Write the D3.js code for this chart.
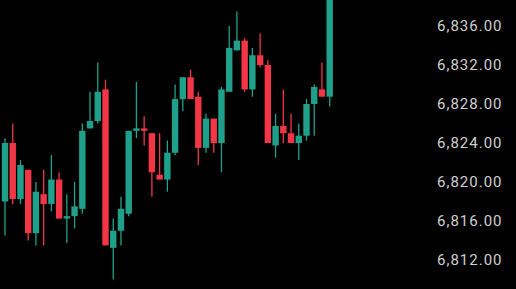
<!DOCTYPE html>
<html>
<head>
<meta charset="utf-8">
<script src="https://cdn.jsdelivr.net/npm/d3@7"></script>
<style>
  html, body { margin: 0; padding: 0; background: #000; }
  svg { display: block; }
</style>
</head>
<body>
<div id="chart"></div>
<script>
const width = 516
const height = 289

/* OHLC, one entry per candle */
const open = [6818.00, 6824.00, 6818.25, 6821.25, 6814.75, 6818.75, 6817.75, 6820.25, 6816.25, 6816.50,
    6817.25, 6825.50, 6826.25, 6829.50, 6813.25, 6815.00, 6816.75, 6825.25, 6825.50, 6825.00,
    6820.75, 6820.25, 6823.00, 6828.50, 6830.75, 6828.75, 6823.50, 6826.50, 6824.00, 6829.25,
    6833.50, 6834.50, 6829.50, 6833.00, 6832.00, 6823.75, 6825.75, 6825.00, 6824.00, 6824.75,
    6828.00, 6829.50, 6828.75]
const high = [6824.50, 6826.00, 6822.25, 6821.25, 6820.00, 6821.25, 6822.75, 6821.00, 6818.75, 6820.00,
    6826.00, 6829.25, 6832.25, 6830.50, 6816.25, 6818.50, 6825.25, 6830.25, 6826.75, 6825.00,
    6825.00, 6824.25, 6830.00, 6830.75, 6831.50, 6829.25, 6827.00, 6826.50, 6829.75, 6836.00,
    6837.50, 6834.75, 6833.75, 6835.25, 6832.50, 6827.00, 6829.50, 6827.00, 6826.00, 6828.50,
    6830.00, 6832.25, 6839.75]
const low = [6814.50, 6817.75, 6817.75, 6814.00, 6813.50, 6813.50, 6817.00, 6816.25, 6813.75, 6815.25,
    6816.75, 6825.50, 6826.00, 6813.50, 6810.00, 6813.50, 6816.50, 6824.50, 6823.75, 6818.50,
    6820.25, 6819.00, 6822.75, 6827.25, 6828.50, 6821.75, 6823.00, 6823.00, 6821.00, 6829.25,
    6833.50, 6829.25, 6828.75, 6831.75, 6824.00, 6822.50, 6824.00, 6824.00, 6822.25, 6824.25,
    6824.75, 6828.75, 6827.75]
const close = [6824.00, 6818.25, 6821.75, 6814.75, 6819.00, 6817.75, 6820.25, 6816.25, 6816.50, 6817.50,
    6825.25, 6826.25, 6829.25, 6813.50, 6815.00, 6817.25, 6825.25, 6825.50, 6825.25, 6821.00,
    6820.25, 6823.00, 6828.50, 6830.75, 6828.50, 6823.50, 6826.50, 6824.00, 6829.50, 6833.75,
    6834.50, 6829.50, 6833.00, 6832.00, 6824.00, 6825.75, 6825.00, 6824.00, 6824.75, 6828.00,
    6829.75, 6828.75, 6839.50]

/* Price axis ticks */
const priceTicks = [6812, 6816, 6820, 6824, 6828, 6832, 6836]

const up = '#1fa08a'
const down = '#f23645'

const candles = open.map((o, i) => ({ i, o, h: high[i], l: low[i], c: close[i] }))

/* Scales */
const x = d3.scalePoint().domain(d3.range(candles.length)).range([5, 329.7])
const y = d3.scaleLinear().domain([6812, 6836]).range([260, 26])
const bodyW = 6.4

/* DOM */
const svg = d3.select('#chart').append('svg').attr('width', width).attr('height', height)
svg.append('rect').attr('width', width).attr('height', height).attr('fill', '#000')

const g = svg.selectAll('g.candle')
    .data(candles)
    .join('g')
    .attr('class', 'candle')
    .attr('fill', d => d.c >= d.o ? up : down)
    .attr('stroke', d => d.c >= d.o ? up : down)

g.append('line')
    .attr('x1', d => x(d.i))
    .attr('x2', d => x(d.i))
    .attr('y1', d => y(d.h))
    .attr('y2', d => y(d.l))
    .attr('stroke-width', 1.3)

g.append('rect')
    .attr('x', d => x(d.i) - bodyW / 2)
    .attr('width', bodyW)
    .attr('y', d => y(Math.max(d.o, d.c)))
    .attr('height', d => Math.max(1, y(Math.min(d.o, d.c)) - y(Math.max(d.o, d.c))))
    .attr('stroke', 'none')

/* Right price axis */
const axis = svg.append('g')
    .attr('transform', 'translate(437,0)')
    .call(d3.axisRight(y).tickValues(priceTicks).tickFormat(d3.format(',.2f')).tickSize(0).tickPadding(0))

axis.select('.domain').remove()
axis.selectAll('text')
    .attr('fill', '#cfcfcf')
    .style('font-family', 'Roboto, sans-serif')
    .style('font-size', '15px')
    .style('letter-spacing', '1px')
</script>
</body>
</html>
